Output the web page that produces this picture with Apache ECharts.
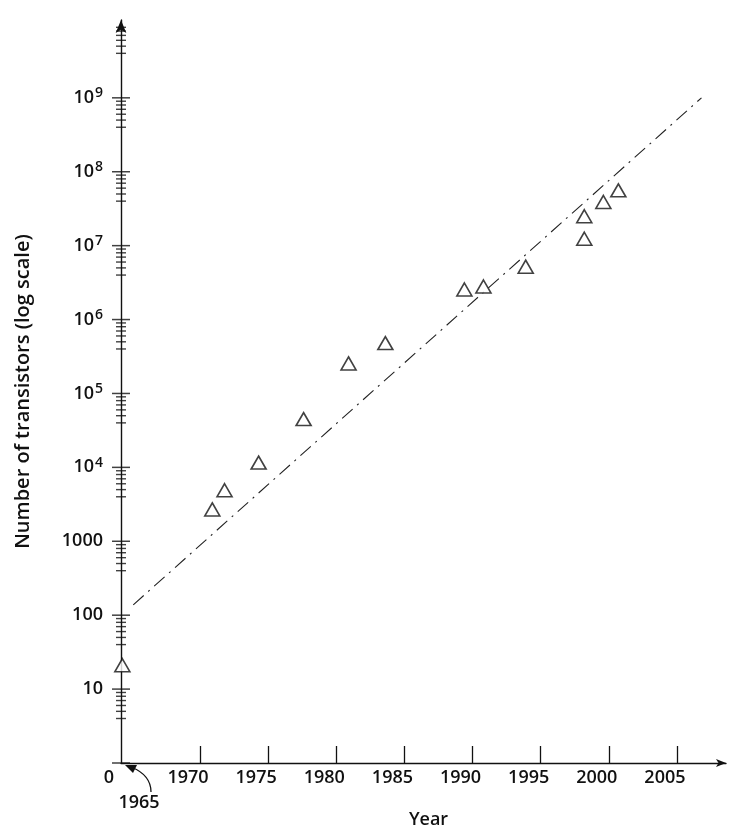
<!DOCTYPE html>
<html><head><meta charset="utf-8">
<script src="https://cdn.jsdelivr.net/npm/echarts@6/dist/echarts.min.js"></script>
<style>html,body{margin:0;padding:0;background:#fff}#c{width:734px;height:834px}</style>
</head><body><div id="c"></div>
<script>
// ---- data ----
const years = [1964.3, 1970.9, 1971.8, 1974.3, 1977.6, 1980.9, 1983.6, 1989.4, 1990.8, 1993.9, 1998.2, 1998.2, 1999.6, 2000.7];
const transistors = [21, 2700, 4900, 11600, 45000, 255000, 480000, 2550000, 2800000, 5200000, 12400000, 25000000, 39000000, 56000000];
const trendYears = [1965.1, 2006.8];
const trendValues = [138, 1.0e9];
const xTickYears = [1970, 1975, 1980, 1985, 1990, 1995, 2000, 2005];
const yDecades = [1, 10, 100, 1000, 1e4, 1e5, 1e6, 1e7, 1e8, 1e9];
const yLabelValues = [10, 100, 1000, 1e4, 1e5, 1e6, 1e7, 1e8, 1e9];
const minorMultipliers = [4, 5, 6, 7, 8, 9];
const xMin = 1964.2, xMax = 2008.6;
const yMax = 1.13e10;
const originLabel = '0';
const startYearLabel = '1965';

const FONT = 'Open Sans';
const INK = '#111';

const points = years.map((y, i) => [y, transistors[i]]);
const trend = trendYears.map((y, i) => [y, trendValues[i]]);
const majorTicks = yDecades.map(v => [xMin, v]);
const minorTicks = [];
yDecades.forEach(d => minorMultipliers.forEach(m => minorTicks.push([xMin, m * d])));

function yLabel(v) {
  const l = Math.log10(v), e = Math.round(l);
  if (Math.abs(l - e) > 1e-3 || e < 1 || e > 9) return '';
  if (e <= 3) return String(Math.round(v));
  return '{b|10}{s|' + e + '}';
}

const chart = echarts.init(document.getElementById('c'), null, {renderer: 'canvas'});
chart.setOption({
  animation: false,
  backgroundColor: '#fff',
  grid: {left: 121, right: 8, top: 20, bottom: 67},
  xAxis: {
    type: 'value', min: xMin, max: xMax,
    splitLine: {show: false},
    axisLine: {show: true, onZero: false, lineStyle: {color: INK, width: 1.4}, symbol: ['none', 'arrow'], symbolSize: [6, 10]},
    axisTick: {show: true, inside: true, length: 17, customValues: xTickYears, lineStyle: {color: INK, width: 1.3}},
    axisLabel: {
      customValues: [xMin].concat(xTickYears),
      formatter: v => (v < 1965 ? originLabel : String(Math.round(v))),
      padding: [0, 24, 0, 0], margin: 6,
      fontSize: 18, fontWeight: 600, fontFamily: FONT, color: INK
    },
    name: 'Year', nameLocation: 'middle', nameGap: 48,
    nameTextStyle: {fontSize: 18, fontWeight: 600, fontFamily: FONT, color: INK, padding: [0, 0, 0, 10]}
  },
  yAxis: {
    type: 'log', logBase: 10, min: 1, max: yMax,
    splitLine: {show: false},
    axisLine: {show: true, onZero: false, lineStyle: {color: INK, width: 1.4}, symbol: ['none', 'arrow'], symbolSize: [8, 13]},
    axisTick: {show: false},
    axisLabel: {
      customValues: yLabelValues,
      margin: 18, fontSize: 18, fontWeight: 600, fontFamily: FONT, color: INK,
      formatter: yLabel,
      rich: {
        b: {fontSize: 18, fontWeight: 600, fontFamily: FONT, color: INK},
        s: {fontSize: 14, fontWeight: 600, fontFamily: FONT, color: INK, padding: [0, 0, 9, 1]}
      }
    },
    name: 'Number of transistors (log scale)', nameLocation: 'middle', nameRotate: 90, nameGap: 88,
    nameTextStyle: {fontSize: 20, fontWeight: 600, fontFamily: FONT, color: INK}
  },
  series: [
    {
      type: 'scatter', data: majorTicks, symbol: 'rect', symbolSize: [18, 1.5], silent: true, clip: false,
      itemStyle: {color: INK}, z: 3
    },
    {
      type: 'scatter', data: minorTicks, symbol: 'rect', symbolSize: [10, 1.4], silent: true, clip: false,
      itemStyle: {color: INK}, z: 3
    },
    {
      type: 'line', data: trend, showSymbol: false, symbol: 'none', silent: true,
      lineStyle: {color: '#222', width: 1.1, type: [14, 6, 2, 6]}, z: 2
    },
    {
      type: 'scatter', data: points, symbol: 'triangle', symbolSize: [15, 13], clip: false,
      itemStyle: {color: '#fff', borderColor: INK, borderWidth: 1.6}, z: 4
    }
  ]
});

// annotation "1965" with curved arrow pointing to the origin
const o = chart.convertToPixel({gridIndex: 0}, [xMin, 1]);
chart.setOption({
  graphic: [
    {type: 'bezierCurve', silent: true,
      shape: {x1: o[0] + 30, y1: o[1] + 29, x2: o[0] + 10, y2: o[1] + 4, cpx1: o[0] + 30, cpy1: o[1] + 12},
      style: {stroke: INK, lineWidth: 1.3, fill: null}},
    {type: 'polygon', silent: true,
      shape: {points: [[o[0] + 4, o[1] + 2], [o[0] + 16, o[1] + 2], [o[0] + 12, o[1] + 10]]},
      style: {fill: INK}},
    {type: 'text', silent: true, x: o[0] + 18, y: o[1] + 40,
      style: {text: startYearLabel, fontSize: 18, fontWeight: 600, fontFamily: FONT, fill: INK, align: 'center', verticalAlign: 'middle'}}
  ]
});
</script>
</body></html>
